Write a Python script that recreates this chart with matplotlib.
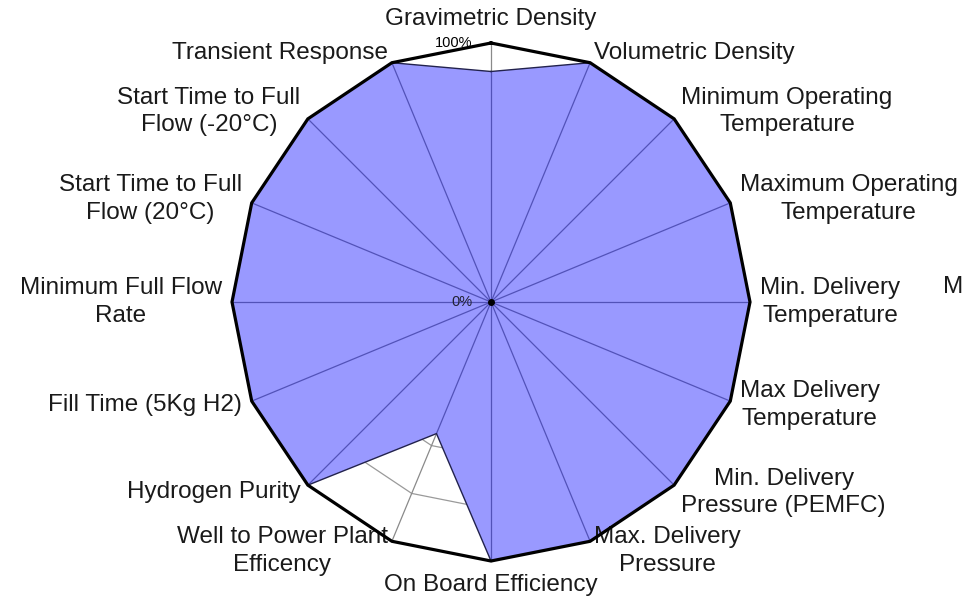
import numpy as np
import matplotlib.pyplot as plt

plt.rcParams["font.family"] = ["Liberation Sans", "DejaVu Sans"]

# axes, clockwise from the top
categories = [
    "Gravimetric Density",
    "Volumetric Density",
    "Minimum Operating\nTemperature",
    "Maximum Operating\nTemperature",
    "Min. Delivery\nTemperature",
    "Max Delivery\nTemperature",
    "Min. Delivery\nPressure (PEMFC)",
    "Max. Delivery\nPressure",
    "On Board Efficiency",
    "Well to Power Plant\nEfficency",
    "Hydrogen Purity",
    "Fill Time (5Kg H2)",
    "Minimum Full Flow\nRate",
    "Start Time to Full\nFlow (20°C)",
    "Start Time to Full\nFlow (-20°C)",
    "Transient Response",
]
status = [0.89, 1.0, 1.0, 1.0, 1.0, 1.0, 1.0, 1.0,
          1.0, 0.55, 1.0, 1.0, 1.0, 1.0, 1.0, 1.0]
target = [1.0] * len(categories)
rings = [0.2, 0.4, 0.6, 0.8]

n = len(categories)
theta = 2 * np.pi * np.arange(n) / n
sx, cy = np.sin(theta), np.cos(theta)


def closed(vals):
    v = np.asarray(vals)
    x = np.append(v * sx, v[0] * sx[0])
    y = np.append(v * cy, v[0] * cy[0])
    return x, y


fig = plt.figure(figsize=(9.65, 6.01), dpi=100)
ax = fig.add_axes([0, 0, 1, 1])
R = 259.0  # pixels for 100%
ax.set_xlim(-491 / R, 474 / R)
ax.set_ylim(-299 / R, 302 / R)
ax.axis("off")

# grid rings (hidden under the data area)
for r in rings:
    gx, gy = closed([r] * n)
    ax.plot(gx, gy, color="#9a9a9a", lw=0.9, zorder=1)

dx, dy = closed(status)
ax.fill(dx, dy, color="white", lw=0, zorder=1.5)

# spokes
for s, c in zip(sx, cy):
    ax.plot([0, s], [0, c], color="#8a8a8a", lw=0.9, zorder=1.6)

ax.fill(dx, dy, color=(0, 0, 1), alpha=0.4, lw=0, zorder=2)
ax.plot(dx, dy, color="#22224d", lw=1.0, zorder=3)

tx, ty = closed(target)
ax.plot(tx, ty, color="black", lw=2.3, zorder=4, solid_joinstyle="miter")
ax.plot(0, 0, "o", color="black", ms=4, zorder=5)

ax.text(-0.07, 1.0, "100%", ha="right", va="center", fontsize=10.5, zorder=6)
ax.text(-0.07, 0.0, "0%", ha="right", va="center", fontsize=10.5, color="#222233", zorder=6)

fs = 17.5
for lab, s, c in zip(categories, sx, cy):
    if abs(s) < 1e-6:
        r = 1.05
        ax.text(0, r * c, lab, ha="center", va="bottom" if c > 0 else "top",
                fontsize=fs, color="#1a1a1a")
    else:
        r = 1.04
        ax.text(r * s, r * c, lab, ha="left" if s > 0 else "right", va="center",
                multialignment="center", linespacing=1.33, fontsize=fs, color="#1a1a1a")

# partly hidden text at the right edge
ax.text((943 - 491) / R, (302 - 287) / R, "M", ha="left", va="center",
        fontsize=fs, color="#1a1a1a")

fig.savefig("out.png", dpi=100)
